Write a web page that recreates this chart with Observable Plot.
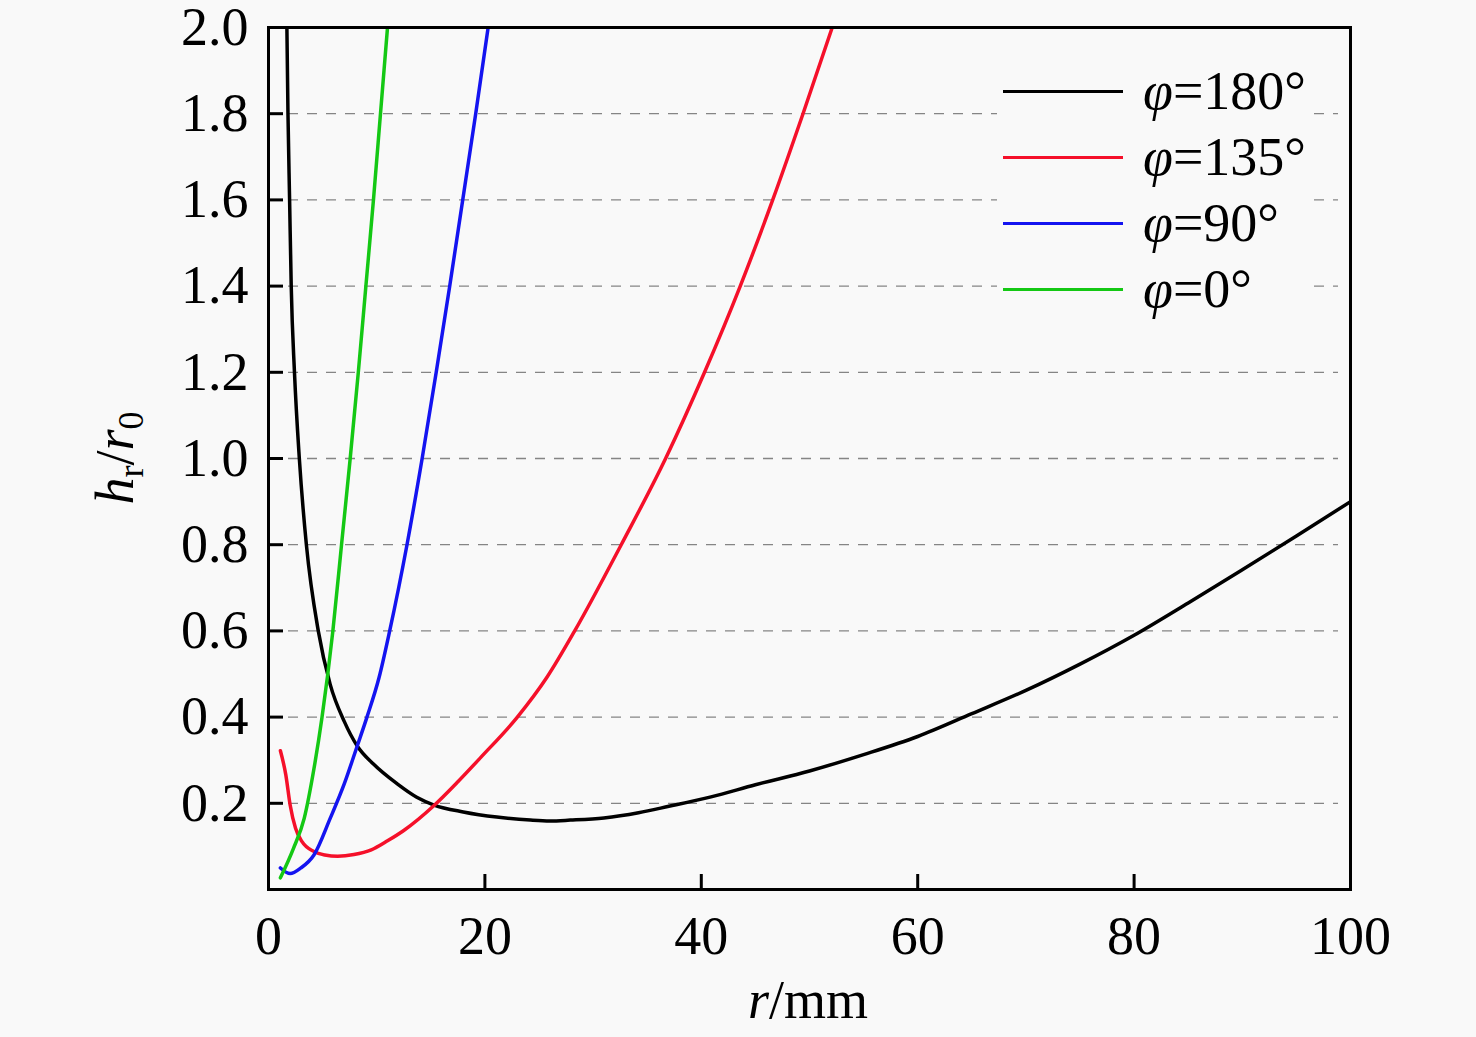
<!DOCTYPE html>
<html><head><meta charset="utf-8">
<script src="https://cdn.jsdelivr.net/npm/d3@7"></script>
<script src="https://cdn.jsdelivr.net/npm/@observablehq/plot@0.6"></script>
<style>
html,body{margin:0;padding:0;background:#f9f9f9;}
#wrap{position:relative;width:1476px;height:1037px;}
#legend{position:absolute;left:997px;top:56px;width:316px;height:262px;background:#f9f9f9;font-family:"Liberation Serif","Times New Roman",serif;font-size:54px;color:#000;}
.row{position:absolute;left:6px;height:60px;display:flex;align-items:center;white-space:nowrap;}
.sw{width:120px;height:0;border-top:3.5px solid;margin-right:20px;}
.row i{font-style:italic;}
</style></head><body><div id="wrap"></div>
<script>
const series = ["180°","135°","90°","0°"];
const colors = ["#000000","#f5102a","#1414f0","#14c814"];

const r180 = [1.7,1.8,1.95,2.1,2.4,2.85,3.5,4.6,5.7,7.0,8.2,9.7,11.9,13.7,15.3,18,21.1,24.2,26,27.9,31,34.2,37,40.9,45,50,55,60,65,70,75,80,85,90,95,100];
const h180 = [2.0,1.8,1.6,1.4,1.2,1.0,0.8,0.6,0.476,0.39,0.333,0.291,0.245,0.214,0.196,0.18,0.168,0.161,0.159,0.161,0.166,0.178,0.193,0.215,0.243,0.275,0.313,0.355,0.408,0.462,0.523,0.59,0.665,0.742,0.82,0.9];

const r135 = [1.1,1.6,2.0,2.5,3.1,4.2,5.2,6.4,7.9,9.5,11.0,12.5,15.3,17.5,19.6,23.0,25.75,28.3,32.6,36.7,40.3,43.6,46.6,49.4,52.1];
const h135 = [0.322,0.266,0.196,0.142,0.111,0.088,0.08,0.077,0.081,0.092,0.113,0.137,0.195,0.25,0.306,0.4,0.493,0.6,0.8,1.0,1.2,1.4,1.6,1.8,2.0];

const r90 = [1.1,2.0,3.0,4.2,5.7,7.0,8.2,9.1,10.2,11.2,12.8,14.2,15.5,16.75,17.95,19.15,20.3];
const h90 = [0.05,0.037,0.05,0.08,0.165,0.245,0.333,0.4,0.49,0.6,0.8,1.0,1.2,1.4,1.6,1.8,2.0];

const r0 = [1.1,2.3,3.3,4.2,4.95,5.95,6.75,7.55,8.3,9.0,9.7,10.35,11.0];
const h0 = [0.027,0.095,0.165,0.28,0.4,0.6,0.8,1.0,1.2,1.4,1.6,1.8,2.0];

const xTicks = [0,20,40,60,80,100];
const yTicks = [0.2,0.4,0.6,0.8,1.0,1.2,1.4,1.6,1.8,2.0];

const rs = [r180,r135,r90,r0], hs = [h180,h135,h90,h0];
const data = [];
series.forEach((s,i)=>rs[i].forEach((r,j)=>data.push({series:s,r,h:hs[i][j]})));

const FONT = "Liberation Serif, Times New Roman, serif";
const chart = Plot.plot({
  width:1476, height:1037,
  marginLeft:268, marginRight:126, marginTop:27, marginBottom:148,
  style:{background:"transparent", fontFamily:FONT, color:"#000", overflow:"visible"},
  x:{domain:[0,100]},
  y:{domain:[0,2]},
  color:{domain:series, range:colors},
  marks:[
    Plot.ruleY(yTicks.slice(0,-1),{y:d=>d, stroke:"#858585", strokeWidth:1.3, strokeDasharray:"10,9", insetLeft:20, insetRight:12}),
    Plot.line(data,{x:"r", y:"h", z:"series", stroke:"series", strokeWidth:3.5, curve:"monotone-x", clip:true}),
    Plot.tickX(xTicks.slice(1,-1),{x:d=>d, insetTop:847, strokeWidth:3, stroke:"#000"}),
    Plot.tickY(yTicks.slice(0,-1),{y:d=>d, insetRight:1067, strokeWidth:3, stroke:"#000"}),
    Plot.frame({stroke:"#000", strokeWidth:3}),
    Plot.axisX(xTicks,{tickSize:0, tickPadding:26, fontSize:54, label:null, tickFormat:d=>String(d)}),
    Plot.axisY(yTicks,{tickSize:0, tickPadding:20, fontSize:54, label:null, tickFormat:d=>d.toFixed(1)})
  ]
});
document.getElementById("wrap").appendChild(chart);

const svg = d3.select(chart);
// x axis title
const xt = svg.append("text").attr("x",808).attr("y",1018).attr("text-anchor","middle")
  .attr("font-family",FONT).attr("font-size",54).attr("fill","#000");
xt.append("tspan").attr("font-style","italic").text("r");
xt.append("tspan").text("/mm");
// y axis title
const yt = svg.append("text").attr("transform","translate(133,458) rotate(-90)").attr("text-anchor","middle")
  .attr("font-family",FONT).attr("font-size",54).attr("fill","#000");
yt.append("tspan").attr("font-style","italic").text("h");
yt.append("tspan").attr("font-size",36).attr("dy",10).text("r");
yt.append("tspan").attr("dy",-10).text("/");
yt.append("tspan").attr("font-style","italic").text("r");
yt.append("tspan").attr("font-size",36).attr("dy",10).text("0");

// legend
const lg = document.createElement("div");
lg.id = "legend";
series.forEach((s,i)=>{
  const row = document.createElement("div");
  row.className = "row";
  row.style.top = (5 + i*66) + "px";
  row.innerHTML = `<span class="sw" style="border-top-color:${colors[i]}"></span><span><i>φ</i>=${s}</span>`;
  lg.appendChild(row);
});
document.getElementById("wrap").appendChild(lg);
</script>
</body></html>
